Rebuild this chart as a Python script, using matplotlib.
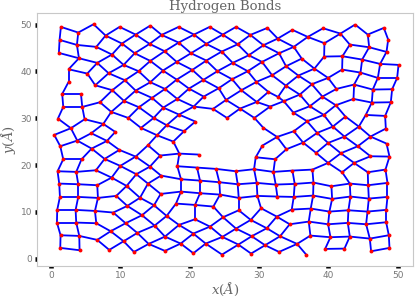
import numpy as np
import matplotlib
matplotlib.use("Agg")
import matplotlib.pyplot as plt
from matplotlib.collections import LineCollection

# oxygen positions (Angstrom)
x_pos = [
    # upper left
    1.44, 3.94, 6.15, 1.25, 3.75, 1.15, 7.88, 9.90, 12.21, 14.33, 10.24, 6.54, 8.80, 12.07, 14.23,
    4.04, 6.68, 2.55, 5.24, 8.32, 10.48, 12.64, 14.33, 2.55, 6.39, 8.85, 10.67, 12.21, 14.33,
    1.63, 4.33, 1.78, 4.52, 7.07, 10.53, 12.69, 14.57, 8.70, 1.01, 4.86, 7.55, 11.15, 12.98, 14.81,
    2.88, 9.28, 5.82, 0.48, 15.29,
    # upper middle
    18.41, 22.88, 26.68, 31.20, 15.96, 20.63, 24.76, 28.75, 32.69, 18.41, 22.40, 26.92, 30.63,
    16.39, 20.19, 24.62, 28.51, 32.88, 18.13, 22.40, 26.20, 30.43, 16.15, 20.38, 23.99, 28.37, 31.88,
    18.13, 21.97, 26.11, 29.62, 16.44, 19.90, 24.18, 27.45, 31.35, 18.22, 22.02, 25.24, 29.66, 32.74,
    16.20, 20.58, 23.37, 27.26, 31.59, 18.46, 25.38, 29.33, 20.82, 16.68, 19.18, 30.63, 32.60,
    # upper right
    34.81, 39.23, 41.73, 43.85, 45.67, 47.98, 48.61, 37.02, 39.42, 43.08, 45.87, 48.37, 35.00,
    39.38, 42.02, 44.86, 47.45, 50.10, 36.15, 33.89, 37.98, 41.97, 44.62, 47.12, 49.90, 35.67, 39.95,
    33.85, 37.60, 41.15, 43.70, 46.39, 49.18, 35.87, 39.13, 43.61, 46.25, 48.99, 33.56, 37.31, 41.06,
    34.95, 39.33, 42.45, 45.38, 48.17, 36.92, 40.63, 44.38, 48.27, 35.00, 38.37, 42.31, 46.06,
    # lower left
    3.80, 8.08, 1.35, 5.87, 9.86, 13.99, 12.21, 15.72, 1.78, 4.42, 7.74, 0.96, 3.65, 6.49, 10.00,
    14.28, 8.75, 12.31, 1.20, 3.94, 6.68, 10.91, 13.99, 15.82, 1.30, 3.94, 6.78, 9.42, 11.01, 12.84,
    14.86, 0.91, 3.56, 6.35, 8.99, 13.13, 0.87, 3.65, 6.54, 10.77, 14.95, 8.61, 12.45, 1.39, 4.09,
    6.68, 10.48, 14.09, 1.35, 4.13, 8.41, 11.97,
    # lower middle
    17.64, 18.51, 21.30, 30.48, 29.52, 32.31, 18.22, 21.06, 23.80, 26.63, 29.28, 32.07, 15.87,
    18.75, 21.49, 24.28, 26.92, 29.66, 32.40, 18.75, 21.49, 24.38, 27.07, 29.76, 32.64, 18.03,
    20.77, 23.41, 27.07, 30.29, 16.68, 20.77, 24.81, 28.80, 32.55, 18.46, 22.93, 26.68, 31.11,
    16.44, 20.53, 24.71, 28.94, 33.03, 18.70, 22.31, 27.02, 30.87, 16.44, 20.53, 24.66, 28.85, 32.88,
    # lower right
    36.35, 39.95, 44.23, 48.37, 33.94, 38.22, 41.78, 46.06, 48.80, 39.95, 43.70, 34.81, 37.69,
    41.97, 45.67, 48.22, 35.14, 37.84, 40.43, 43.08, 45.72, 48.51, 35.00, 37.79, 40.53, 43.17,
    45.82, 48.51, 34.71, 37.45, 40.14, 42.88, 45.63, 48.32, 34.42, 37.16, 39.95, 42.79, 45.43,
    48.32, 37.40, 40.29, 43.08, 45.96, 48.70, 35.48, 36.83, 39.52, 42.31, 46.15, 48.80,
]
y_pos = [
    49.51, 48.30, 50.08, 46.73, 45.66, 43.95, 47.66, 49.51, 47.87, 49.79, 45.95, 45.24, 43.60, 43.88, 45.88,
    42.81, 41.82, 40.46, 39.54, 39.61, 41.39, 40.04, 42.24, 37.76, 37.04, 35.98, 38.11, 35.90, 37.69,
    35.19, 35.19, 32.41, 32.41, 33.41, 33.70, 32.34, 34.34, 31.35, 29.92, 29.78, 28.78, 30.06, 27.93, 30.06,
    27.86, 27.07, 26.79, 26.43, 26.36,
    49.51, 49.51, 49.51, 49.29, 47.80, 47.87, 47.87, 47.80, 47.02, 46.16, 45.88, 45.80, 45.59,
    44.31, 43.88, 44.24, 43.45, 43.88, 42.03, 42.32, 41.82, 42.03, 40.18, 40.32, 40.04, 40.04, 39.18,
    38.25, 38.18, 38.33, 37.76, 36.26, 36.33, 36.40, 35.98, 35.62, 34.12, 34.62, 33.91, 33.48, 34.55,
    32.27, 32.49, 31.99, 32.06, 32.49, 30.78, 30.06, 30.06, 29.28, 28.50, 27.21, 27.93, 26.00,
    48.87, 49.22, 48.08, 50.01, 47.87, 49.29, 46.80, 47.37, 46.02, 45.73, 45.16, 44.17, 45.24,
    43.17, 43.24, 42.53, 41.60, 41.39, 42.74, 41.10, 40.60, 40.39, 39.75, 38.61, 38.61, 39.11, 38.61,
    36.97, 37.26, 36.26, 37.19, 36.12, 36.19, 35.05, 34.62, 34.12, 33.34, 33.41, 33.63, 32.56, 32.77,
    31.20, 30.70, 30.35, 30.70, 30.49, 29.35, 28.21, 28.21, 27.78, 27.21, 26.86, 26.08, 26.08,
    25.22, 25.15, 24.01, 23.51, 23.23, 24.22, 21.80, 22.02, 21.23, 21.23, 21.30, 18.67, 18.53, 18.88, 19.81,
    19.67, 17.31, 18.03, 16.03, 15.89, 15.68, 15.53, 16.03, 13.82, 13.18, 13.18, 12.97, 13.40, 11.26, 13.00,
    11.40, 10.41, 10.41, 10.19, 9.84, 9.27, 7.70, 7.70, 7.56, 7.56, 7.06, 5.85, 5.49, 4.99, 4.85,
    4.00, 3.71, 3.14, 2.29, 1.79, 1.86, 1.43,
    25.01, 22.44, 22.23, 24.15, 21.66, 21.23, 19.74, 19.45, 19.17, 18.67, 19.10, 18.53, 17.74,
    16.96, 16.67, 16.32, 15.89, 16.18, 15.82, 14.32, 13.97, 13.68, 12.97, 13.40, 13.26, 11.76,
    11.47, 11.12, 10.33, 10.76, 9.12, 8.41, 8.84, 8.27, 8.98, 7.20, 6.84, 6.42, 6.49,
    4.71, 5.35, 4.64, 4.78, 4.78, 3.21, 3.21, 3.00, 2.86, 1.65, 1.15, 0.86, 1.08, 1.43,
    24.79, 24.72, 24.01, 24.58, 23.37, 22.59, 22.51, 21.87, 21.80, 20.45, 20.45, 18.81, 19.02,
    18.45, 18.45, 19.02, 15.96, 16.25, 15.46, 16.03, 15.68, 16.18, 13.18, 13.47, 12.76, 13.26,
    12.83, 13.18, 10.48, 10.69, 10.05, 10.33, 10.05, 10.41, 7.34, 7.91, 7.34, 7.63, 7.34,
    7.77, 4.92, 4.57, 4.71, 4.28, 4.99, 3.14, 0.79, 2.07, 2.14, 1.57, 2.29,
]

# bond search: O-O distance cutoff, at most 4 bonds per molecule, no 3-rings
bond_cutoff = 3.4
max_bonds = 4
no_bond = [
    ((1.15, 43.95), (3.75, 45.66)),
    ((21.30, 22.23), (21.06, 19.45)),
    ((36.83, 0.79), (39.52, 2.07)),
    ((4.33, 35.19), (6.39, 37.04)),
]

pts = np.column_stack([x_pos, y_pos])
n = len(pts)
d = np.hypot(pts[:, None, 0] - pts[None, :, 0], pts[:, None, 1] - pts[None, :, 1])
banned = set()
for a, b in no_bond:
    i = int(np.argmin(np.hypot(pts[:, 0] - a[0], pts[:, 1] - a[1])))
    j = int(np.argmin(np.hypot(pts[:, 0] - b[0], pts[:, 1] - b[1])))
    banned.add((min(i, j), max(i, j)))

ii, jj = np.nonzero(np.triu((d > 0) & (d < bond_cutoff)))
order = np.argsort(d[ii, jj])
nbrs = [set() for _ in range(n)]
segments = []
for k in order:
    i, j = int(ii[k]), int(jj[k])
    if (i, j) in banned:
        continue
    if len(nbrs[i]) >= max_bonds or len(nbrs[j]) >= max_bonds:
        continue
    if nbrs[i] & nbrs[j]:
        continue
    nbrs[i].add(j)
    nbrs[j].add(i)
    segments.append([pts[i], pts[j]])

plt.rcParams['mathtext.fontset'] = 'dejavuserif'
fig = plt.figure(figsize=(4.16, 3.0), dpi=100)
ax = fig.add_axes([0.089, 0.113, 0.904, 0.844])

ax.add_collection(LineCollection(segments, colors='blue', linewidths=1.3))
ax.plot(x_pos, y_pos, 'o', color='red', ms=2.8, mew=0)

ax.set_xlim(-2.0, 52.2)
ax.set_ylim(-1.6, 52.5)
ax.set_xticks([0, 10, 20, 30, 40, 50])
ax.set_yticks([0, 10, 20, 30, 40, 50])
ax.tick_params(length=1.5, width=3.3, color='black', labelcolor='#777777',
               labelsize=6.5, pad=2)
for s in ax.spines.values():
    s.set_color('#c8c8c8')
    s.set_linewidth(0.8)

ax.set_title('Hydrogen Bonds', family='DejaVu Serif', fontsize=9.5, color='#666666', pad=1)
ax.set_xlabel(r'$x(\AA)$', fontsize=9.5, color='#666666', labelpad=1)
ax.set_ylabel(r'$y(\AA)$', fontsize=9.5, color='#666666')
ax.yaxis.set_label_coords(-0.05, 0.5)

fig.savefig('out.png', dpi=100)
